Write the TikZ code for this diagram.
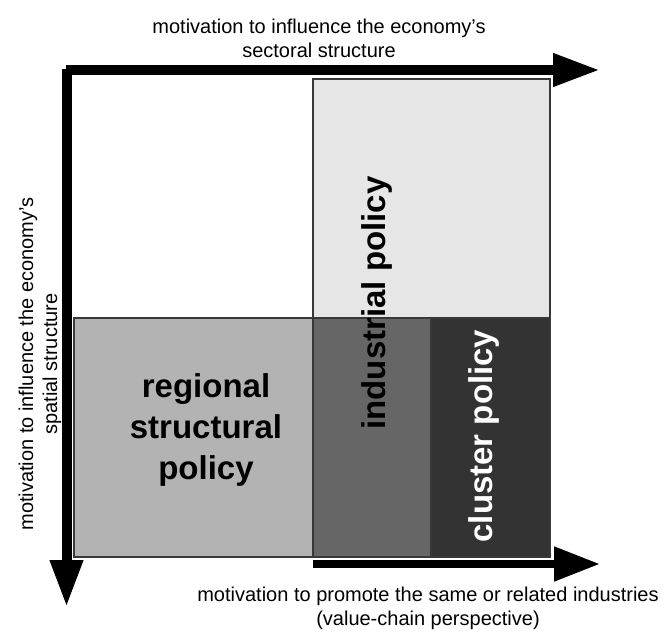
\documentclass[tikz,border=0pt]{standalone}
\usepackage{fontspec}
\setmainfont{Liberation Sans}
\usetikzlibrary{arrows.meta}
\definecolor{lightg}{HTML}{E6E6E6}
\definecolor{midg}{HTML}{B3B3B3}
\definecolor{darkg}{HTML}{666666}
\definecolor{deepg}{HTML}{333333}
\definecolor{edgeg}{HTML}{383838}
\begin{document}
\begin{tikzpicture}[x=1pt,y=-1pt,
  region/.style={draw=edgeg, line width=1.1pt, inner sep=0pt, outer sep=0pt, anchor=north west},
  axislabel/.style={font=\fontsize{20}{24}\selectfont, align=center, inner sep=0pt},
  policylabel/.style={font=\bfseries\fontsize{33}{41}\selectfont, align=center, inner sep=0pt},
  axisarrow/.style={line width=10pt, -{Triangle[length=47pt,width=31pt]}},
]
\useasboundingbox (0,0) rectangle (668,631);
% regions
\node[region, fill=lightg, minimum width=237pt, minimum height=478pt] (ind) at (313,79) {};
\node[region, fill=midg, minimum width=239pt, minimum height=239pt] (reg) at (74,318) {};
\node[region, fill=darkg, minimum width=118pt, minimum height=239pt] (ovl) at (313,318) {};
\node[region, fill=deepg, minimum width=119pt, minimum height=239pt] (clu) at (431,318) {};
% region labels
\node[policylabel] (regtext) at (206,430) {regional\\structural\\policy};
\node[policylabel, rotate=90] (indtext) at (377,303) {industrial policy};
\node[policylabel, rotate=90, text=white] (clutext) at (484,436) {cluster policy};
% axes
\coordinate (hstart) at (66,70);
\coordinate (hend) at (600,70);
\coordinate (vstart) at (66.5,69);
\coordinate (vend) at (66.5,607);
\coordinate (bstart) at (313,564);
\coordinate (bend) at (600,564);
\draw[axisarrow] (hstart) -- (hend);
\draw[axisarrow] (vstart) -- (vend);
\draw[line width=8pt, -{Triangle[length=46pt,width=33pt]}] (bstart) -- (bend);
% axis labels
\node[axislabel] (toplab) at (319,38) {motivation to influence the economy's\\sectoral structure};
\node[axislabel, rotate=90] (leftlab) at (40,364) {motivation to influence the economy's\\spatial structure};
\node[axislabel] (botlab) at (428,608) {motivation to promote the same or related industries\\(value-chain perspective)};
\end{tikzpicture}
\end{document}
